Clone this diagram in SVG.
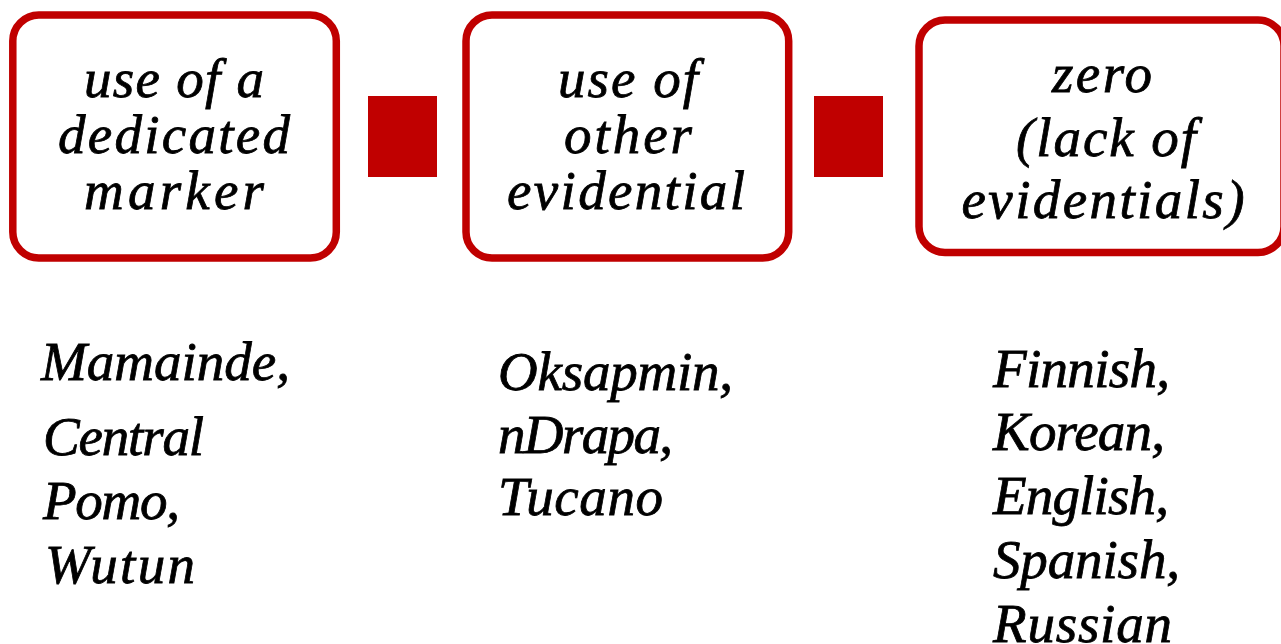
<svg xmlns="http://www.w3.org/2000/svg" width="1281" height="644" viewBox="0 0 1281 644">
<style>
.box{fill:#fff;stroke:#C00000;stroke-width:7.5}
.sq{fill:#C00000}
.t{font-family:"Liberation Serif","DejaVu Serif",serif;font-style:italic;font-size:55px;fill:#000;stroke:#000;stroke-width:0.8}
.m{text-anchor:middle}
</style>
<rect width="1281" height="644" fill="#fff"/>
<g id="connectors">
<rect class="sq" x="368" y="96" width="69" height="81"/>
<rect class="sq" x="814" y="96" width="69" height="81"/>
</g>
<g id="node1">
<rect class="box" x="12.8" y="15" width="323.5" height="243" rx="26"/>
<text class="t m" x="174" y="97" textLength="180" lengthAdjust="spacing">use of a</text>
<text class="t m" x="174" y="153" textLength="232" lengthAdjust="spacing">dedicated</text>
<text class="t m" x="174" y="209" textLength="180" lengthAdjust="spacing">marker</text>
</g>
<g id="node2">
<rect class="box" x="466" y="15" width="322.7" height="243" rx="26"/>
<text class="t m" x="628" y="97" textLength="140" lengthAdjust="spacing">use of</text>
<text class="t m" x="628" y="153" textLength="128" lengthAdjust="spacing">other</text>
<text class="t m" x="626" y="209" textLength="238" lengthAdjust="spacing">evidential</text>
</g>
<g id="node3">
<rect class="box" x="919" y="20" width="365" height="232.5" rx="26"/>
<text class="t m" x="1102" y="92" textLength="100" lengthAdjust="spacing">zero</text>
<text class="t m" x="1106" y="156" textLength="180" lengthAdjust="spacing">(lack of</text>
<text class="t m" x="1103" y="218" textLength="283" lengthAdjust="spacing">evidentials)</text>
</g>
<g id="list1">
<text class="t" x="41" y="380" textLength="249" lengthAdjust="spacing">Mamainde,</text>
<text class="t" x="43" y="455" textLength="161" lengthAdjust="spacing">Central</text>
<text class="t" x="43" y="519" textLength="137" lengthAdjust="spacing">Pomo,</text>
<text class="t" x="45" y="583" textLength="150" lengthAdjust="spacing">Wutun</text>
</g>
<g id="list2">
<text class="t" x="498" y="390" textLength="235" lengthAdjust="spacing">Oksapmin,</text>
<text class="t" x="498" y="453" textLength="175" lengthAdjust="spacing">nDrapa,</text>
<text class="t" x="498" y="515" textLength="165" lengthAdjust="spacing">Tucano</text>
</g>
<g id="list3">
<text class="t" x="993" y="387" textLength="177" lengthAdjust="spacing">Finnish,</text>
<text class="t" x="993" y="450" textLength="172" lengthAdjust="spacing">Korean,</text>
<text class="t" x="993" y="514" textLength="176" lengthAdjust="spacing">English,</text>
<text class="t" x="993" y="578" textLength="187" lengthAdjust="spacing">Spanish,</text>
<text class="t" x="993" y="642" textLength="179" lengthAdjust="spacing">Russian</text>
</g>
</svg>
